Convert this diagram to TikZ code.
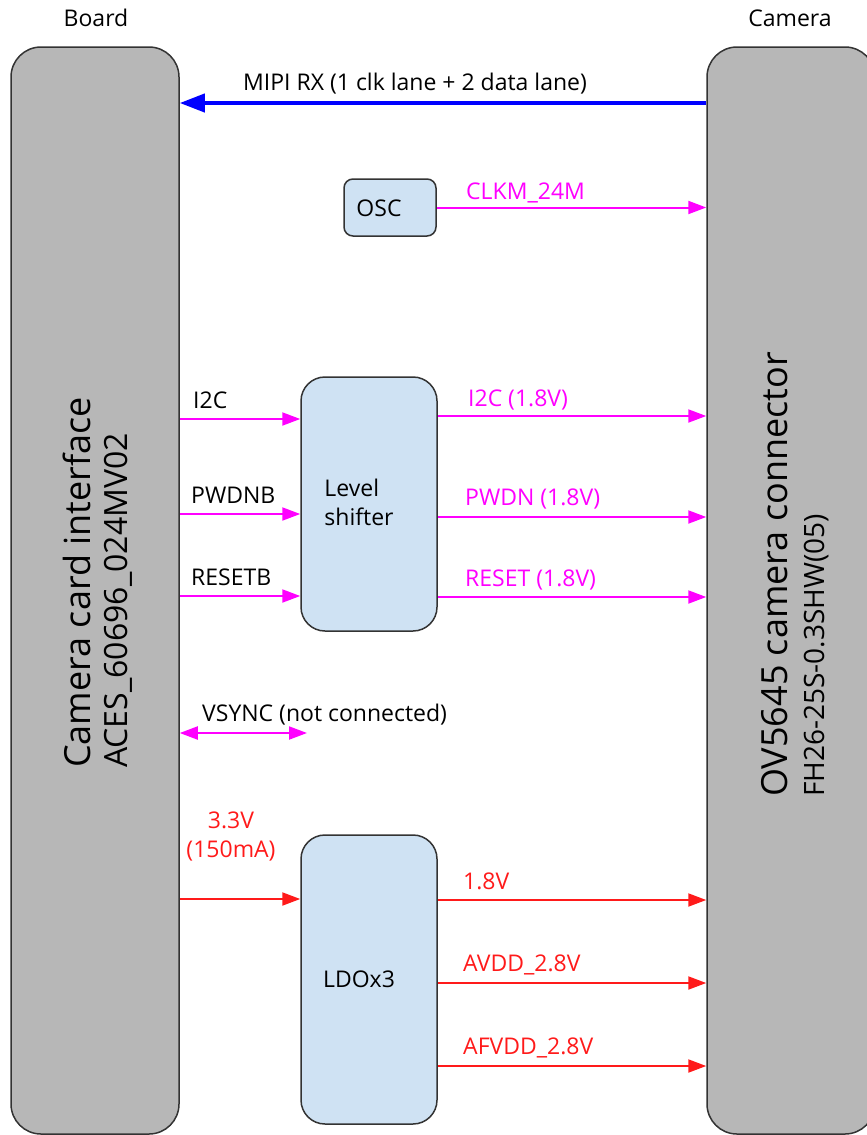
\documentclass[tikz,border=0pt]{standalone}
\usepackage{fontspec}
\setmainfont{Open Sans}
\usetikzlibrary{arrows.meta, positioning}
\definecolor{sidegray}{HTML}{B7B7B7}
\definecolor{chipblue}{HTML}{CFE2F3}
\definecolor{sigmag}{HTML}{FF00FF}
\definecolor{pwrred}{HTML}{FF1A1A}
\definecolor{mipiblue}{HTML}{0000FF}

\begin{document}
\begin{tikzpicture}[x=1pt, y=-1pt,
    side/.style={draw=black!80, line width=1.5pt, fill=sidegray, rounded corners=30pt,
        minimum width=168pt, minimum height=1087pt, inner sep=0pt},
    chip/.style={draw=black!80, line width=1.5pt, fill=chipblue, rounded corners=24pt,
        minimum width=136pt, inner sep=0pt},
    lbl/.style={inner sep=0pt, anchor=base west, font=\fontsize{23}{29}\selectfont},
    chiptxt/.style={inner sep=0pt, align=left, font=\fontsize{23}{29}\selectfont},
    bigtxt/.style={inner sep=0pt, rotate=90, anchor=west, align=left, font=\fontsize{36}{37}\selectfont},
    sig/.style={sigmag, line width=2pt, -{Triangle[length=18pt,width=13pt]}},
    pwr/.style={pwrred, line width=2pt, -{Triangle[length=18pt,width=13pt]}},
    mipi/.style={mipiblue, line width=4pt, -{Triangle[length=25pt,width=18pt]}},
]
\useasboundingbox (0,0) rectangle (867,1135);

% board and camera sides
\node[side] (board) at (95,590.5) {};
\node[side] (cam) at (791,590.5) {};
\node[lbl, anchor=base] (boardtitle) at (96,27) {Board};
\node[lbl, anchor=base] (camtitle) at (790,27) {Camera};
\node[bigtxt] (boardtxt) at (98,768) {Camera card interface\\{\fontsize{32}{37}\selectfont ACES\_60696\_024MV02}};
\node[bigtxt] (camtxt) at (795,797) {OV5645 camera connector\\{\fontsize{28}{37}\selectfont FH26-25S-0.3SHW(05)}};

% chips
\node[chip, minimum width=92pt, minimum height=57pt, rounded corners=9pt] (osc) at (390,207.5) {};
\node[chip, minimum height=254pt] (ls) at (369,504) {};
\node[chip, minimum height=289pt] (ldo) at (369,979.5) {};
\node[chiptxt] (osctxt) at (379,208) {OSC};
\node[chiptxt] (lstxt) at (359,502) {Level\\shifter};
\node[chiptxt] (ldotxt) at (359,979) {LDOx3};

% mipi
\coordinate (mipiy) at (0,103);
\draw[mipi] (cam.west |- mipiy) -- (board.east |- mipiy);
\node[lbl] (mipilbl) at (243,90) {MIPI RX (1 clk lane + 2 data lane)};

% clock
\draw[sig] (osc.east) -- (cam.west |- osc.east);
\node[lbl, text=sigmag] (clklbl) at (466,199) {CLKM\_24M};

% level shifter
\coordinate (i2cin) at (0,419);
\coordinate (pwdnin) at (0,514);
\coordinate (rstin) at (0,596);
\coordinate (i2cout) at (0,416);
\coordinate (pwdnout) at (0,517);
\coordinate (rstout) at (0,597);
\draw[sig] (board.east |- i2cin) -- (ls.west |- i2cin);
\draw[sig] (board.east |- pwdnin) -- (ls.west |- pwdnin);
\draw[sig] (board.east |- rstin) -- (ls.west |- rstin);
\draw[sig] (ls.east |- i2cout) -- (cam.west |- i2cout);
\draw[sig] (ls.east |- pwdnout) -- (cam.west |- pwdnout);
\draw[sig] (ls.east |- rstout) -- (cam.west |- rstout);
\node[lbl] (i2clbl) at (193,408) {I2C};
\node[lbl] (pwdnlbl) at (191,503) {PWDNB};
\node[lbl] (rstlbl) at (191,585) {RESETB};
\node[lbl, text=sigmag] (i2coutlbl) at (468,406) {I2C (1.8V)};
\node[lbl, text=sigmag] (pwdnoutlbl) at (465,505) {PWDN (1.8V)};
\node[lbl, text=sigmag] (rstoutlbl) at (465,586) {RESET (1.8V)};

% vsync
\coordinate (vsyncend) at (307,733);
\draw[sig, {Triangle[length=18pt,width=13pt]}-{Triangle[length=18pt,width=13pt]}] (board.east |- vsyncend) -- (vsyncend);
\node[lbl] (vsynclbl) at (202,721) {VSYNC (not connected)};

% power
\coordinate (vinY) at (0,899);
\coordinate (v18) at (0,900);
\coordinate (avdd) at (0,983);
\coordinate (afvdd) at (0,1066);
\draw[pwr] (board.east |- vinY) -- (ldo.west |- vinY);
\draw[pwr] (ldo.east |- v18) -- (cam.west |- v18);
\draw[pwr] (ldo.east |- avdd) -- (cam.west |- avdd);
\draw[pwr] (ldo.east |- afvdd) -- (cam.west |- afvdd);
\node[lbl, anchor=base, align=center, text=pwrred] (vinlbl) at (231,857) {3.3V\\(150mA)};
\node[lbl, text=pwrred] (v18lbl) at (463,889) {1.8V};
\node[lbl, text=pwrred] (avddlbl) at (463,971) {AVDD\_2.8V};
\node[lbl, text=pwrred] (afvddlbl) at (463,1054) {AFVDD\_2.8V};
\end{tikzpicture}
\end{document}
